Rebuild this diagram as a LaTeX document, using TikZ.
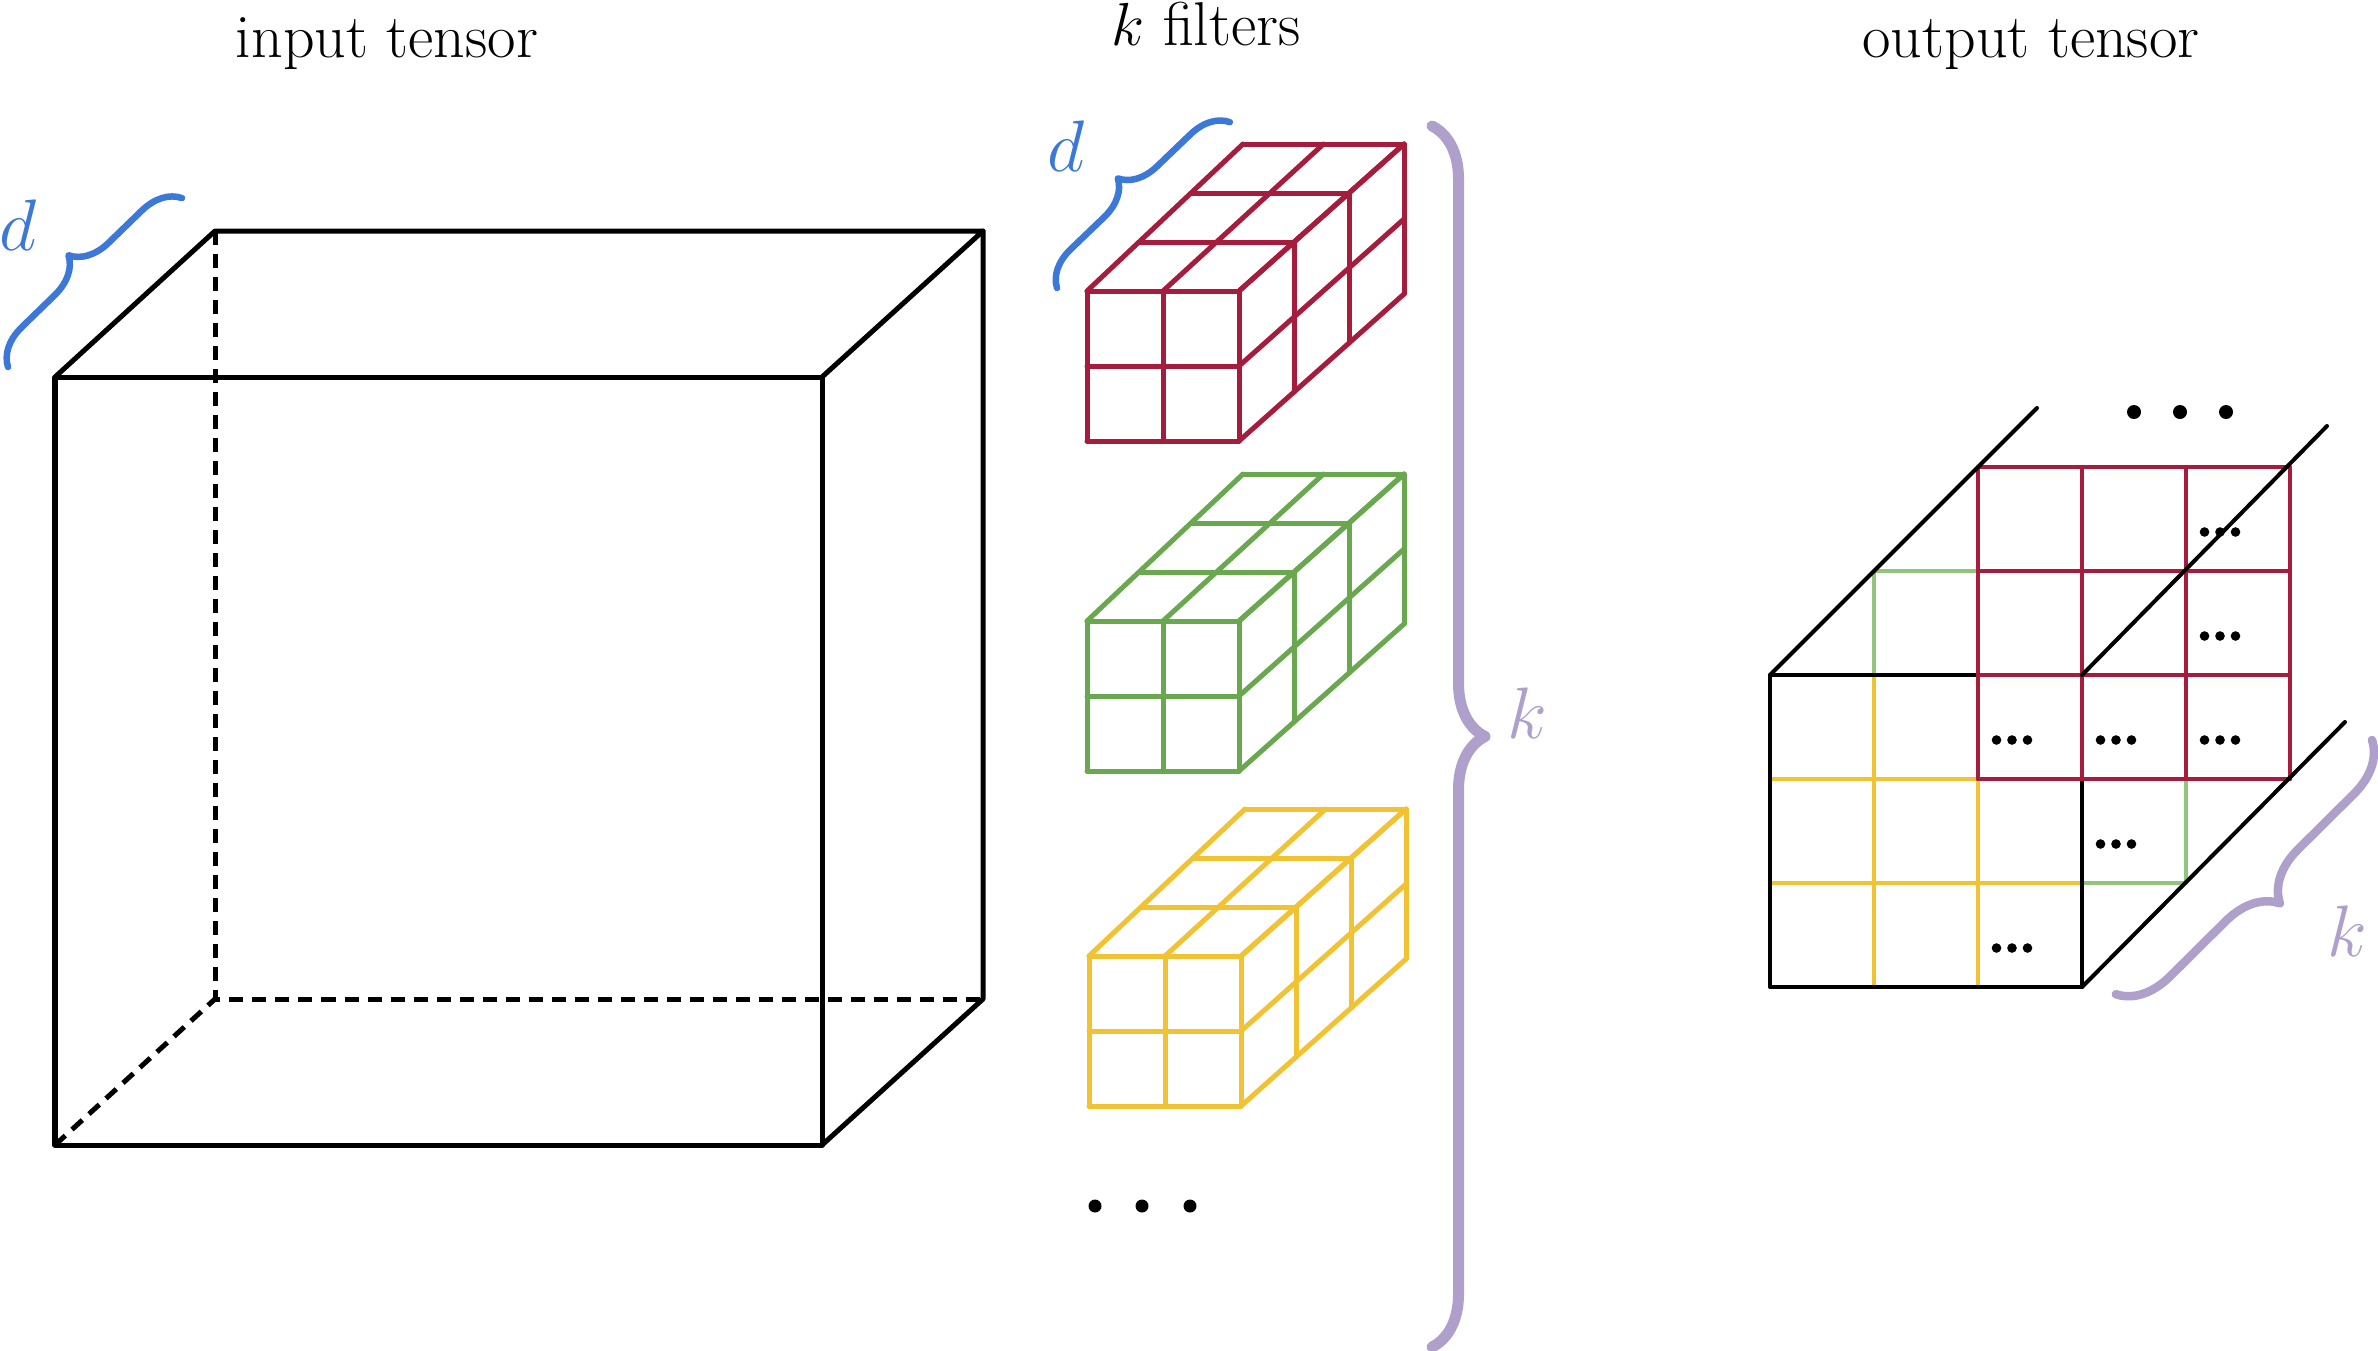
\documentclass[tikz,border=0pt]{standalone}
\usetikzlibrary{decorations.pathreplacing}
\definecolor{fred}{HTML}{A61C3C}
\definecolor{fgreen}{HTML}{6AA84F}
\definecolor{fyellow}{HTML}{F1C232}
\definecolor{lgreen}{HTML}{93C47D}
\definecolor{bbrace}{HTML}{3C78D8}
\definecolor{pbrace}{HTML}{AE9FCB}
\newcommand\drawfilter[2]{%
  \begin{scope}[shift={#2}, color=#1, filterline]
    \foreach \i in {0,1,2} \draw (\i*76,0) -- (\i*76,150);
    \foreach \j in {0,1,2} \draw (0,\j*75) -- (152,\j*75);
    \foreach \k in {1,2,3} \draw (\k*52,-\k*49) -- (152+\k*55,-\k*49);
    \foreach \i in {0,1,2} \draw (\i*76,0) -- ({\i*76+3*(52+1.5*\i)},-147);
    \foreach \k in {1,2,3} \draw (152+\k*55,-\k*49) -- (152+\k*55,150-\k*49);
    \foreach \j in {0,1,2} \draw (152,\j*75) -- (317,\j*75-147);
  \end{scope}}
\newcommand\celldots[2]{%
  \foreach \dd in {-15.5,0,15.5}
    \fill ({#1*104+34+\dd},{#2*104+65}) circle (4.8);}
\begin{document}
\begin{tikzpicture}[x=0.01cm,y=-0.01cm,
  cubeline/.style={line width=0.05cm, line cap=round, line join=round},
  hiddenline/.style={cubeline, dash pattern=on 0.14cm off 0.09cm, line cap=butt},
  filterline/.style={line width=0.05cm, line cap=round, line join=round},
  gridline/.style={line width=0.04cm, line cap=round, line join=round},
  bigbrace/.style={decorate, line cap=round, line join=round},
  title/.style={font=\fontsize{17.6}{20}\selectfont, anchor=base, inner sep=0},
  mathlabel/.style={font=\fontsize{20}{24}\selectfont, inner sep=0}]
\fill[white] (0,0) rectangle (2378,1350);
\useasboundingbox (0,0) rectangle (2378,1350);

% titles
\node[title] (tin) at (387,57) {input tensor};
\node[title] (tfil) at (1206,45) {$k$ filters};
\node[title] (tout) at (2031,57) {output tensor};

% input tensor
\draw[hiddenline] (215,231) -- (215,999) -- (983,999);
\draw[hiddenline] (55,1145) -- (215,999);
\draw[cubeline] (55,377) rectangle (822,1145);
\draw[cubeline] (55,377) -- (215,231) -- (983,231) -- (822,377);
\draw[cubeline] (983,231) -- (983,999) -- (822,1145);
\draw[bigbrace, color=bbrace, line width=0.065cm, decoration={brace, amplitude=0.38cm}] (8,367) -- (182,198);
\node[mathlabel, text=bbrace] (din) at (18,225) {$d$};

% filters
\drawfilter{fred}{(1087,291)}
\drawfilter{fgreen}{(1087,621)}
\drawfilter{fyellow}{(1089,956)}
\draw[bigbrace, color=bbrace, line width=0.065cm, decoration={brace, amplitude=0.37cm}] (1057,288) -- (1230,122);
\node[mathlabel, text=bbrace] (dfil) at (1066,146) {$d$};
\foreach \x in {1095,1142,1190} \fill (\x,1206) circle (6.5);
\draw[bigbrace, color=pbrace, line width=0.11cm, decoration={brace, amplitude=0.53cm}] (1432,126) -- (1432,1347);
\node[mathlabel, text=pbrace] (kfil) at (1527,713) {$k$};

% output tensor
\begin{scope}[shift={(1770,675)}]
  \begin{scope}[gridline, color=lgreen, line width=0.035cm]
    \foreach \i in {1,...,4} \draw (\i*104,-104) -- (\i*104,208);
    \foreach \j in {-1,...,2} \draw (104,\j*104) -- (416,\j*104);
  \end{scope}
  \begin{scope}[gridline, color=fyellow, line width=0.037cm]
    \foreach \i in {0,...,3} \draw (\i*104,0) -- (\i*104,312);
    \foreach \j in {0,...,3} \draw (0,\j*104) -- (312,\j*104);
  \end{scope}
  \draw[gridline] (0,0) rectangle (312,312);
  \begin{scope}[gridline, color=fred]
    \foreach \i in {2,...,5} \draw (\i*104,-208) -- (\i*104,104);
    \foreach \j in {-2,...,1} \draw (208,\j*104) -- (520,\j*104);
  \end{scope}
  \draw[gridline] (0,0) -- (267,-267);
  \draw[gridline] (312,0) -- (557,-249);
  \draw[gridline] (312,312) -- (575,47);
  \celldots{4}{-2}
  \celldots{4}{-1}
  \celldots{4}{0}
  \celldots{3}{0}
  \celldots{2}{0}
  \celldots{3}{1}
  \celldots{2}{2}
\end{scope}
\foreach \x in {2134,2180,2226} \fill (\x,412) circle (7);
\draw[bigbrace, color=pbrace, line width=0.085cm, decoration={brace, amplitude=0.51cm}] (2372,740) -- (2115,995);
\node[mathlabel, text=pbrace] (kout) at (2347,931) {$k$};
\end{tikzpicture}
\end{document}
